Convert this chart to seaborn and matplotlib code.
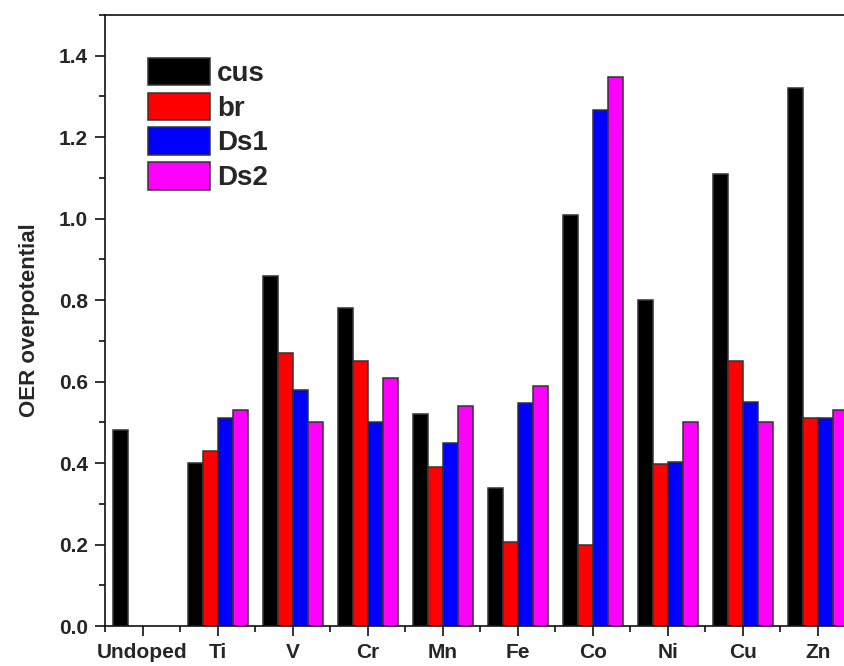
import numpy as np
import pandas as pd
import matplotlib
matplotlib.use("Agg")
import matplotlib.pyplot as plt
from matplotlib.ticker import MultipleLocator, FormatStrFormatter
import seaborn as sns

# OER overpotential per dopant and adsorption site
dopants = ["Undoped", "Ti", "V", "Cr", "Mn", "Fe", "Co", "Ni", "Cu", "Zn"]
sites = ["cus", "br", "Ds1", "Ds2"]
cus = [0.48, 0.40, 0.86, 0.78, 0.52, 0.34, 1.01, 0.80, 1.11, 1.32]
br = [np.nan, 0.43, 0.67, 0.65, 0.39, 0.205, 0.20, 0.398, 0.65, 0.51]
ds1 = [np.nan, 0.51, 0.58, 0.50, 0.45, 0.547, 1.268, 0.402, 0.551, 0.51]
ds2 = [np.nan, 0.53, 0.50, 0.61, 0.54, 0.59, 1.348, 0.50, 0.50, 0.53]
site_colors = ["#000000", "#ff0000", "#0000ff", "#ff00ff"]

rows = []
for site, vals in zip(sites, [cus, br, ds1, ds2]):
    for d, v in zip(dopants, vals):
        if not np.isnan(v):
            rows.append({"dopant": d, "site": site, "value": v})
df = pd.DataFrame(rows)

sns.set_theme(style="ticks")
plt.rcParams["font.family"] = ["Liberation Sans", "DejaVu Sans"]
plt.rcParams["font.weight"] = "bold"

fig = plt.figure(figsize=(8.45, 6.66), dpi=100)
ax = fig.add_axes([105 / 845, 40 / 666, 750.5 / 845, 611 / 666])

sns.barplot(data=df, x="dopant", y="value", hue="site",
            order=dopants, hue_order=sites, palette=site_colors,
            width=0.8, dodge=True, errorbar=None,
            edgecolor="#333333", linewidth=1.1, saturation=1, ax=ax)

ax.set_xlim(-0.5, 9.5)
ax.set_ylim(0, 1.5)
ax.yaxis.set_major_locator(MultipleLocator(0.2))
ax.yaxis.set_minor_locator(MultipleLocator(0.1))
ax.xaxis.set_minor_locator(MultipleLocator(0.5))
ax.yaxis.set_major_formatter(FormatStrFormatter("%.1f"))

for s in ax.spines.values():
    s.set_linewidth(1.2)
    s.set_color("#111111")

ax.tick_params(axis="both", which="major", direction="out", length=7.5,
               width=1.2, labelsize=15, pad=5, color="#111111")
ax.tick_params(axis="both", which="minor", direction="out", length=4,
               width=1.2, color="#111111")
for lab in ax.get_xticklabels() + ax.get_yticklabels():
    lab.set_fontweight("bold")

ax.set_xlabel("")
ax.set_ylabel("OER overpotential", fontsize=16, fontweight="bold", labelpad=13)

leg = ax.legend(loc="upper left", bbox_to_anchor=(0.057, 0.93),
                frameon=False, fontsize=20, handlelength=2.25,
                handleheight=1.15, labelspacing=0.2, handletextpad=0.25,
                borderpad=0, borderaxespad=0)
for t in leg.get_texts():
    t.set_fontweight("bold")

fig.savefig("out.png", dpi=100)
